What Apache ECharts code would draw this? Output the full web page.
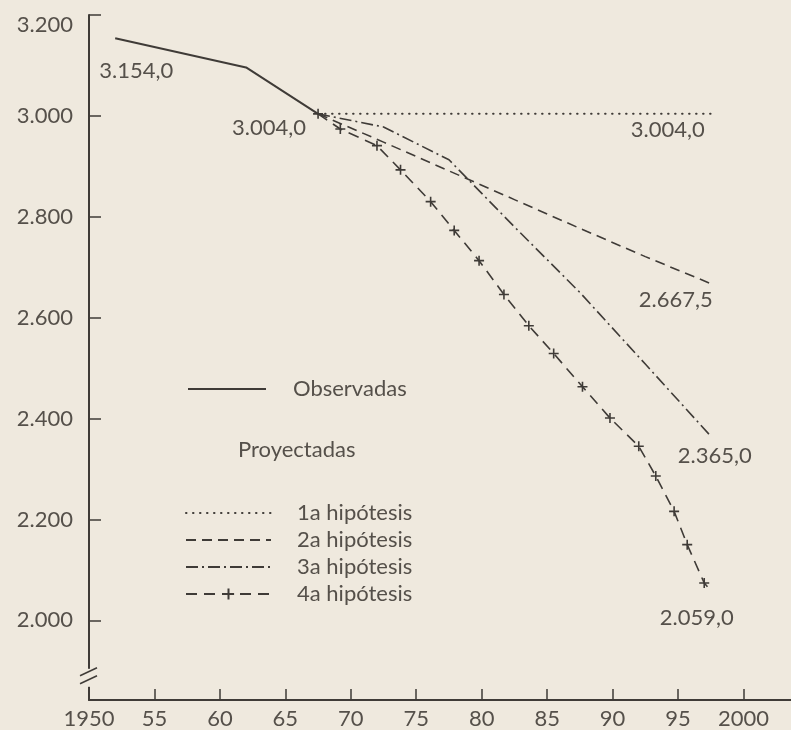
<!DOCTYPE html>
<html><head><meta charset="utf-8">
<script src="https://cdn.jsdelivr.net/npm/echarts@6/dist/echarts.min.js"></script>
<style>html,body{margin:0;padding:0;background:#efe9de;} #c{width:791px;height:730px;}</style>
</head><body><div id="c"></div>
<script>
// ---- data (thousands) ----
const obsYears = [1952, 1962, 1967.5];
const obsValues = [3154, 3096, 3004];
const projYears = [1967.5, 1972.5, 1977.5, 1982.5, 1987.5, 1992.5, 1997.5];
const h1Values = [3004, 3004, 3004, 3004, 3004, 3004, 3004];
const h2Values = [3004, 2948, 2891, 2834, 2777, 2721, 2667.5];
const h3Values = [3004, 2978, 2913, 2780, 2650, 2508, 2365];
// 4a: line drawn through the "+" marks
const h4Years = [1967.5, 1969.2, 1972.0, 1973.8, 1976.1, 1977.9, 1979.8, 1981.7, 1983.6, 1985.5, 1987.7, 1989.8, 1992.0, 1993.3, 1994.7, 1995.7, 1997.0, 1997.5];
const h4Values = [3004, 2974, 2941, 2893, 2830, 2773, 2713, 2646, 2584, 2529, 2463, 2401, 2345, 2286, 2216, 2150, 2074, 2059];
const xTickValues = [1955, 1960, 1965, 1970, 1975, 1980, 1985, 1990, 1995, 2000];
const xLabelValues = [1950, 1955, 1960, 1965, 1970, 1975, 1980, 1985, 1990, 1995, 2000];
const yTickValues = [2000, 2200, 2400, 2600, 2800, 3000, 3200];
const names = ['Observadas', '1a hipótesis', '2a hipótesis', '3a hipótesis', '4a hipótesis'];
const groupTitle = 'Proyectadas';

// ---- styling ----
const BG = '#efe9de';
const INK = '#3f3b37';
const TXT = '#55504a';
const FONT = 'Lato, "DejaVu Sans", sans-serif';
const FS = 22;
const HIDE = { color: 'rgba(0,0,0,0)', borderColor: 'rgba(0,0,0,0)', borderWidth: 0, opacity: 0 };

function fmtNum(v) {
  const s = Number(v).toFixed(1);
  const [ip, dp] = s.split('.');
  const ipf = ip.replace(/\B(?=(\d{3})+(?!\d))/g, '.');
  return ipf + ',' + dp;
}
function pairs(xs, ys) { return xs.map((x, i) => [x, ys[i]]); }
function mp(x, y, off) {
  return { coord: [x, y], value: y, label: { offset: off } };
}
const labelBase = { show: true, position: 'inside', color: TXT, fontSize: FS, fontFamily: FONT, formatter: p => fmtNum(p.value) };

const chart = echarts.init(document.getElementById('c'), null, { renderer: 'canvas' });
const last = a => a[a.length - 1];
const yMax = 3200;

const option = {
  backgroundColor: BG,
  animation: false,
  grid: { left: 89, right: 0, top: 15, bottom: 29.3, containLabel: false },
  xAxis: {
    type: 'value', min: 1950, max: 2003.63,
    splitLine: { show: false },
    axisLine: { show: true, lineStyle: { color: INK, width: 2 } },
    axisTick: { show: true, inside: true, length: 11, customValues: xTickValues, lineStyle: { color: INK, width: 1.5 } },
    axisLabel: {
      customValues: xLabelValues, margin: 8, color: TXT, fontSize: FS, fontFamily: FONT,
      formatter: v => (v === 1950 || v === 2000) ? String(v) : String(v).slice(2)
    }
  },
  yAxis: {
    type: 'value', min: 1842, max: yMax,
    splitLine: { show: false },
    axisLine: { show: true, lineStyle: { color: INK, width: 2 } },
    axisTick: { show: true, inside: true, length: 12, customValues: yTickValues, lineStyle: { color: INK, width: 1.5 } },
    axisLabel: {
      customValues: yTickValues, margin: 16, color: TXT, fontSize: FS, fontFamily: FONT,
      formatter: v => v === yMax ? '{t|' + (v / 1000).toFixed(3) + '}' : (v / 1000).toFixed(3),
      rich: { t: { padding: [20, 0, 0, 0], color: TXT, fontSize: FS, fontFamily: FONT } }
    }
  },
  legend: [
    {
      data: [{ name: names[0], itemStyle: HIDE }], left: 182, top: 373, orient: 'vertical', selectedMode: false,
      itemWidth: 78, itemHeight: 14,
      textStyle: { color: TXT, fontSize: FS, fontFamily: FONT, padding: [0, 0, 0, 22] }
    },
    {
      data: [
        { name: names[1], itemStyle: HIDE },
        { name: names[2], itemStyle: HIDE },
        { name: names[3], itemStyle: HIDE },
        { name: names[4] }
      ],
      left: 180, top: 497, orient: 'vertical', selectedMode: false,
      itemWidth: 85, itemHeight: 14, itemGap: 5,
      textStyle: { color: TXT, fontSize: FS, fontFamily: FONT, lineHeight: 22, padding: [0, 0, 0, 21] }
    }
  ],
  series: [
    {
      name: names[0], type: 'line', data: pairs(obsYears, obsValues), symbol: 'none', z: 5,
      lineStyle: { color: INK, width: 2 }, itemStyle: { color: INK },
      markPoint: {
        symbol: 'circle', symbolSize: 0, silent: true, label: labelBase,
        data: [mp(obsYears[0], obsValues[0], [21, 33]), mp(last(obsYears), last(obsValues), [-49, 14])]
      }
    },
    {
      name: names[1], type: 'line', data: pairs(projYears, h1Values), symbol: 'none',
      lineStyle: { color: INK, width: 2, type: [0.5, 6.5], cap: 'round' }, itemStyle: { color: INK },
      markPoint: {
        symbol: 'circle', symbolSize: 0, silent: true, label: labelBase,
        data: [mp(last(projYears), last(h1Values), [-43, 16])]
      }
    },
    {
      name: names[2], type: 'line', data: pairs(projYears, h2Values), symbol: 'none',
      lineStyle: { color: INK, width: 1.6, type: [10, 6] }, itemStyle: { color: INK },
      markPoint: {
        symbol: 'circle', symbolSize: 0, silent: true, label: labelBase,
        data: [mp(last(projYears), last(h2Values), [-35, 16])]
      }
    },
    {
      name: names[3], type: 'line', data: pairs(projYears, h3Values), symbol: 'none',
      lineStyle: { color: INK, width: 1.6, type: [12, 4, 2, 4] }, itemStyle: { color: INK },
      markPoint: {
        symbol: 'circle', symbolSize: 0, silent: true, label: labelBase,
        data: [mp(last(projYears), last(h3Values), [4, 20])]
      }
    },
    {
      name: names[4], type: 'line', symbol: 'path://M0,5L10,5M5,0L5,10', symbolSize: 10,
      showAllSymbol: true,
      data: pairs(h4Years, h4Values).map((p, i, a) => i === a.length - 1 ? { value: p, symbol: 'none' } : p),
      lineStyle: { color: INK, width: 1.6, type: [11, 7] },
      itemStyle: { color: 'rgba(0,0,0,0)', borderColor: INK, borderWidth: 1.6 },
      markPoint: {
        symbol: 'circle', symbolSize: 0, silent: true, label: labelBase,
        data: [mp(last(h4Years), last(h4Values), [-14, 27])]
      }
    }
  ]
};
chart.setOption(option);

// axis break marks on the y axis (decoration)
const ax = chart.convertToPixel({ xAxisIndex: 0 }, 1950);
const yc = chart.convertToPixel({ yAxisIndex: 0 }, 1886);
chart.setOption({
  graphic: [
    { type: 'rect', shape: { x: ax - 5, y: yc - 9, width: 10, height: 18 }, style: { fill: BG }, z: 100 },
    { type: 'line', shape: { x1: ax - 9, y1: yc - 2, x2: ax + 8, y2: yc - 10 }, style: { stroke: INK, lineWidth: 1.6 }, z: 101 },
    { type: 'line', shape: { x1: ax - 9, y1: yc + 6, x2: ax + 8, y2: yc - 2 }, style: { stroke: INK, lineWidth: 1.6 }, z: 101 },
    { type: 'text', left: 238, top: 439, style: { text: groupTitle, fill: TXT, font: FS + 'px ' + FONT }, z: 100 }
  ]
});
</script></body></html>
